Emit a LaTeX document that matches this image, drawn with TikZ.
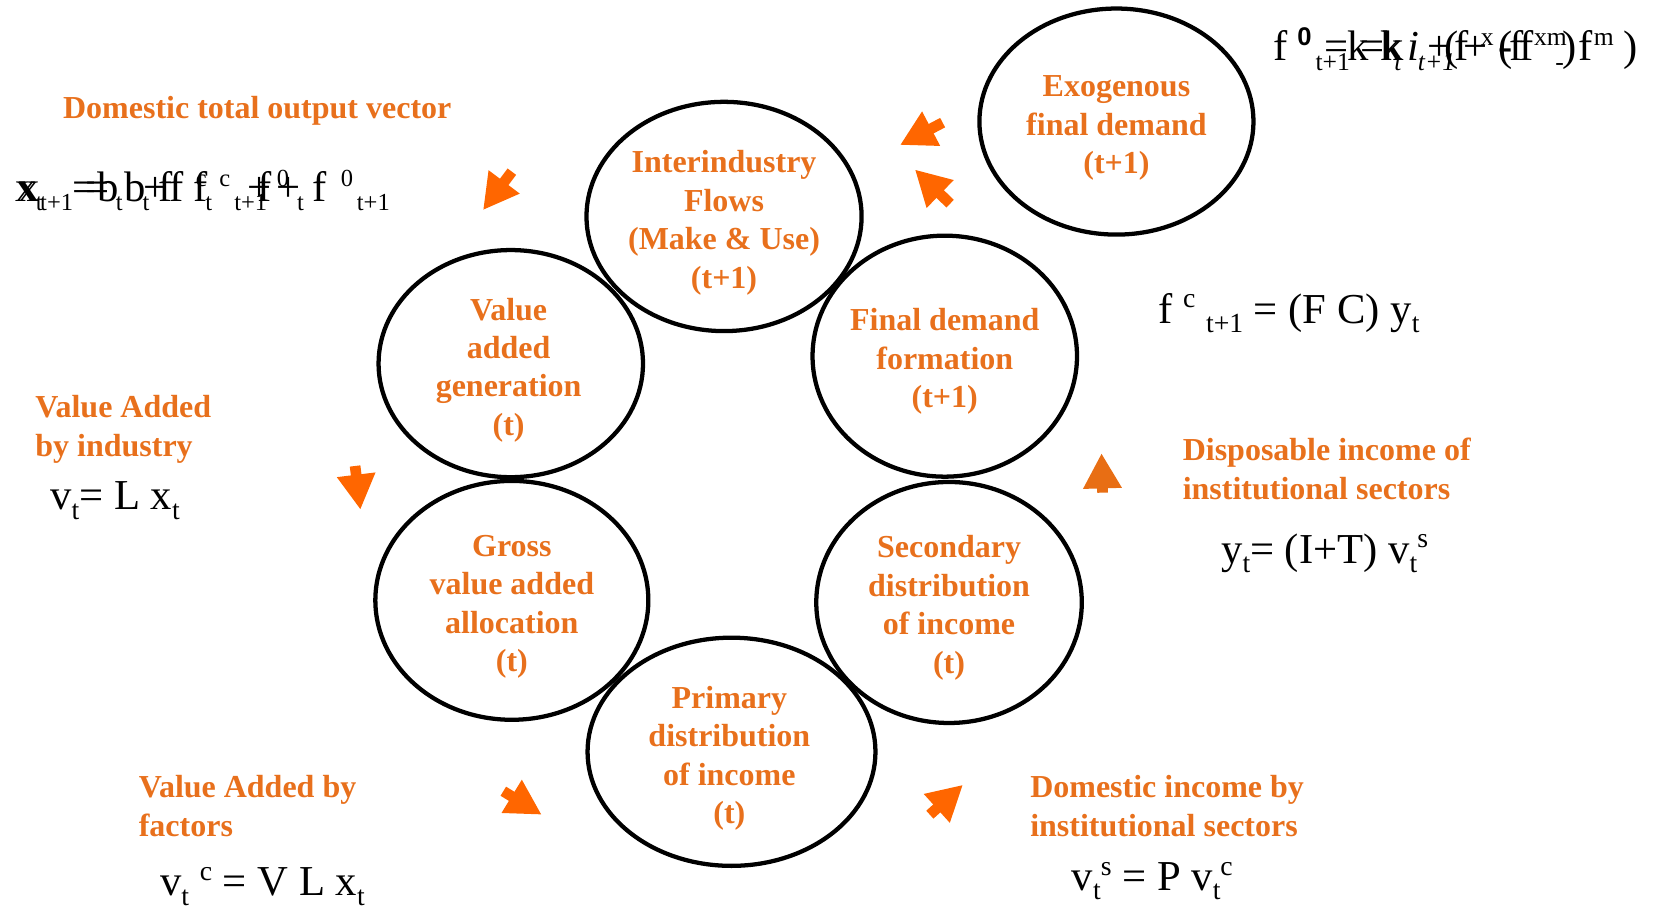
\documentclass[tikz,border=0pt]{standalone}
\usepackage{fontspec}
\setmainfont{Liberation Serif}
\newfontfamily\arialf{Liberation Sans}
\usetikzlibrary{arrows.meta,shapes.geometric}
\definecolor{txtor}{RGB}{232,112,28}
\definecolor{arror}{RGB}{255,102,0}
\definecolor{arrdark}{RGB}{232,110,20}
\def\subsz{26}
\newcommand\Sb[1]{\raisebox{-0.22em}{\fontsize{\subsz}{\subsz}\selectfont #1}}
\newcommand\Sp[1]{\raisebox{0.36em}{\fontsize{\subsz}{\subsz}\selectfont #1}}
\newcommand\Gat[2]{\rlap{\hspace*{#1pt}#2}}
\begin{document}
\begin{tikzpicture}[x=1pt,y=-1pt,
  cyc/.style={ellipse, draw=black, line width=4pt, inner sep=0pt},
  ctext/.style={align=center, inner sep=0pt, text=txtor, font=\fontsize{30}{36}\selectfont\bfseries},
  lab/.style={anchor=north west, inner sep=0pt, align=left, text=txtor, font=\fontsize{30}{36.5}\selectfont\bfseries},
  eq/.style={anchor=base west, inner sep=0pt, font=\fontsize{40}{44}\selectfont},
  arr/.style={draw=arror, line width=10pt, -{Triangle[length=33pt 0, width=34pt 0]}},
]
\useasboundingbox (0,0) rectangle (1568,852);

% cycle ellipses
\node[cyc, minimum width=258pt, minimum height=215pt] (inter) at (679,203) {};
\node[cyc, minimum width=257pt, minimum height=212pt] (exo) at (1047,114) {};
\node[cyc, minimum width=248pt, minimum height=213pt] (vag) at (479,341) {};
\node[cyc, minimum width=248pt, minimum height=226pt] (fdf) at (886,334) {};
\node[cyc, minimum width=256pt, minimum height=224pt] (gva) at (480,563) {};
\node[cyc, minimum width=249pt, minimum height=226pt] (sec) at (890,565) {};
\node[cyc, minimum width=270pt, minimum height=214pt] (pri) at (686,705) {};

\node[ctext] (interT) at ([yshift=-6pt]inter.center) {Interindustry\\Flows\\(Make \& Use)\\(t+1)};
\node[ctext] (exoT) at ([yshift=-6pt]exo.center) {Exogenous\\final demand\\(t+1)};
\node[ctext] (vagT) at ([shift={(-2pt,-6pt)}]vag.center) {Value\\added\\generation\\(t)};
\node[ctext] (fdfT) at ([yshift=-5pt]fdf.center) {Final demand\\formation\\(t+1)};
\node[ctext] (gvaT) at ([yshift=-6pt]gva.center) {Gross\\value added\\allocation\\(t)};
\node[ctext] (secT) at ([yshift=-5pt]sec.center) {Secondary\\distribution\\of income\\(t)};
\node[ctext] (priT) at ([shift={(-2pt,-6pt)}]pri.center) {Primary\\distribution\\of income\\(t)};

% orange labels
\node[lab] (ldt) at (59,90.5) {Domestic total output vector};
\node[lab] (lvi) at (33,370.5) {Value Added\\by industry};
\node[lab] (lvf) at (130,726.5) {Value Added by\\factors};
\node[lab] (ldi) at (966,726.5) {Domestic income by\\institutional sectors};
\node[lab] (ldp) at (1109,410.5) {Disposable income of\\institutional sectors};

% formulas
\node[eq] (eqfc) at (1086,303) {f \Sp{c} \Sb{t+1} = (F C) y\Sb{t}};
\node[eq] (eqy) at (1145,528) {y\Sb{t}= (I+T) v\Sb{t}\Sp{s}};
\node[eq] (eqvs) at (1005,835) {v\Sb{t}\Sp{s} = P v\Sb{t}\Sp{c}};
\node[eq] (eqvc) at (150,840) {v\Sb{t} \Sp{c} = V L x\Sb{t}};
\node[eq] (eqvt) at (47,478) {v\Sb{t}= L x\Sb{t}};

% garbled top-left formula (two overlapping layers)
\node[eq] (eqx) at (0,189) {\def\subsz{23}\Gat{14}{x}\Gat{17}{x}\Gat{33}{\Sb{t}}\Gat{37}{\Sb{t+1}}%
\Gat{67}{=}\Gat{79}{=}\Gat{91}{b}\Gat{108}{\Sb{t}}\Gat{116}{b}\Gat{133}{\Sb{t}}%
\Gat{134}{+}\Gat{148}{f}\Gat{158}{f}\Gat{181}{f}\Gat{183}{\Sp{c}}\Gat{192}{\Sb{t}}%
\Gat{205}{\Sp{c}}\Gat{219}{\Sb{t+1}}\Gat{231}{+}\Gat{241}{f}\Gat{259}{\Sp{0}}\Gat{259}{+}%
\Gat{278}{\Sb{t}}\Gat{292}{f}\Gat{319}{\Sp{0}}\Gat{334}{\Sb{t+1}}};

% garbled top-right formula (two overlapping layers)
\node[eq] (eqf0) at (0,57) {\def\subsz{24}\Gat{1194}{f}\Gat{1216}{\Sp{\arialf\bfseries 0}}\Gat{1233}{\Sb{t+1}}%
\Gat{1241}{=}\Gat{1263}{k}\Gat{1275}{=}\Gat{1294}{k}\Gat{1296}{k}\Gat{1307}{\Sb{\itshape t}}%
\Gat{1319}{\itshape i}\Gat{1329}{\Sb{\itshape t+1}}\Gat{1338}{+}\Gat{1354}{(}\Gat{1363}{f}%
\Gat{1372}{+}\Gat{1388}{\Sp{x}}\Gat{1405}{(}\Gat{1405}{-}\Gat{1415}{f}\Gat{1424}{f}%
\Gat{1438}{\Sp{xm}}\Gat{1458}{\Sb{-}}\Gat{1465}{)}\Gat{1480}{f}\Gat{1494}{\Sp{m}}\Gat{1522}{)}};

% arrows
\coordinate (aAs) at (480,161); \coordinate (aAt) at (453,197);
\coordinate (aBs) at (884,115); \coordinate (aBt) at (844,136);
\coordinate (aCs) at (891,191); \coordinate (aCt) at (858,159);
\coordinate (aDs) at (333,437); \coordinate (aDt) at (338,478);
\coordinate (aEs) at (1034,462); \coordinate (aEt) at (1033,425);
\coordinate (aFs) at (472,742); \coordinate (aFt) at (508,764);
\coordinate (aGs) at (872,764); \coordinate (aGt) at (903,736);
\draw[arr] (aAs) -- (aAt);
\draw[arr] (aBs) -- (aBt);
\draw[arr] (aCs) -- (aCt);
\draw[arr] (aDs) -- (aDt);
\draw[arr, draw=arrdark] (aEs) -- (aEt);
\draw[arr] (aFs) -- (aFt);
\draw[arr] (aGs) -- (aGt);
\end{tikzpicture}
\end{document}
